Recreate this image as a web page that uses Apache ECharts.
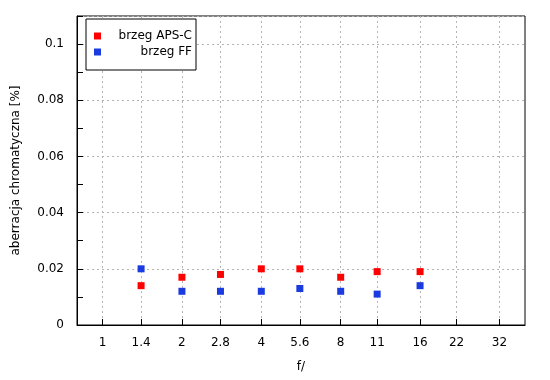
<!DOCTYPE html>
<html>
<head>
<meta charset="utf-8">
<script src="https://cdn.jsdelivr.net/npm/echarts@6/dist/echarts.min.js"></script>
<style>html,body{margin:0;padding:0;background:#fff}#c{width:550px;height:380px}</style>
</head>
<body>
<div id="c"></div>
<script>
var fStops = [1.4, 2, 2.8, 4, 5.6, 8, 11, 16];
var apsC = [0.014, 0.017, 0.018, 0.020, 0.020, 0.017, 0.019, 0.019];
var ff = [0.020, 0.012, 0.012, 0.012, 0.013, 0.012, 0.011, 0.014];
var xTicks = [1, 1.4, 2, 2.8, 4, 5.6, 8, 11, 16, 22, 32];
var seriesNames = ['brzeg APS-C', 'brzeg FF'];

function pairs(xs, ys) { return xs.map(function (x, i) { return [x, ys[i]]; }); }

var font = '"DejaVu Sans", sans-serif';
var gridLine = { show: true, lineStyle: { color: '#b4b4b4', type: [2, 3], width: 1 } };

var chart = echarts.init(document.getElementById('c'), null, { renderer: 'canvas' });
chart.setOption({
  animation: false,
  backgroundColor: '#fff',
  textStyle: { fontFamily: font },
  grid: { left: 77, right: 25, top: 16, bottom: 55, show: true, borderColor: '#000', borderWidth: 1, backgroundColor: 'transparent' },
  legend: {
    left: 86, top: 19, orient: 'vertical',
    padding: [11, 4, 12, 8],
    itemGap: 4, itemWidth: 7, itemHeight: 7, icon: 'rect',
    borderColor: '#000', borderWidth: 1, backgroundColor: '#fff',
    data: seriesNames,
    formatter: function (n) { return '{a|' + n + '}'; },
    textStyle: { fontFamily: font, fontSize: 12, color: '#000',
      rich: { a: { width: 86, align: 'right', fontSize: 12, lineHeight: 14, fontFamily: font, color: '#000' } } }
  },
  xAxis: {
    type: 'log', logBase: 2, min: 0.8, max: 40,
    name: 'f/', nameLocation: 'middle', nameGap: 36,
    nameTextStyle: { fontFamily: font, fontSize: 12, color: '#000' },
    axisLine: { show: true, lineStyle: { color: '#000' } },
    axisTick: { show: true, inside: true, length: 6, customValues: xTicks, lineStyle: { color: '#000' } },
    axisLabel: { customValues: xTicks, margin: 12, fontFamily: font, fontSize: 12, color: '#000',
      formatter: function (v) { return String(v); } },
    splitLine: gridLine,
    minorTick: { show: false }, minorSplitLine: { show: false }
  },
  yAxis: [{
    type: 'value', min: 0, max: 0.11, interval: 0.02,
    name: 'aberracja chromatyczna [%]', nameLocation: 'middle', nameGap: 55,
    nameTextStyle: { fontFamily: font, fontSize: 12, color: '#000' },
    axisLine: { show: true, lineStyle: { color: '#000' } },
    axisTick: { show: false },
    axisLabel: { showMaxLabel: false, margin: 13, fontFamily: font, fontSize: 12, color: '#000',
      formatter: function (v) { return String(+v.toFixed(2)); } },
    splitLine: gridLine
  }, {
    type: 'value', min: 0, max: 0.11, interval: 0.01, position: 'left',
    axisLine: { show: false },
    axisTick: { show: true, inside: true, length: 6, lineStyle: { color: '#000' } },
    axisLabel: { show: false },
    splitLine: { show: false }
  }],
  series: [{
    name: seriesNames[0], type: 'scatter', symbol: 'rect', symbolSize: 7,
    itemStyle: { color: '#ff0000', opacity: 1 }, data: pairs(fStops, apsC), z: 3
  }, {
    name: seriesNames[1], type: 'scatter', symbol: 'rect', symbolSize: 7,
    itemStyle: { color: '#1a3be0', opacity: 1 }, data: pairs(fStops, ff), z: 3
  }]
});
</script>
</body>
</html>
